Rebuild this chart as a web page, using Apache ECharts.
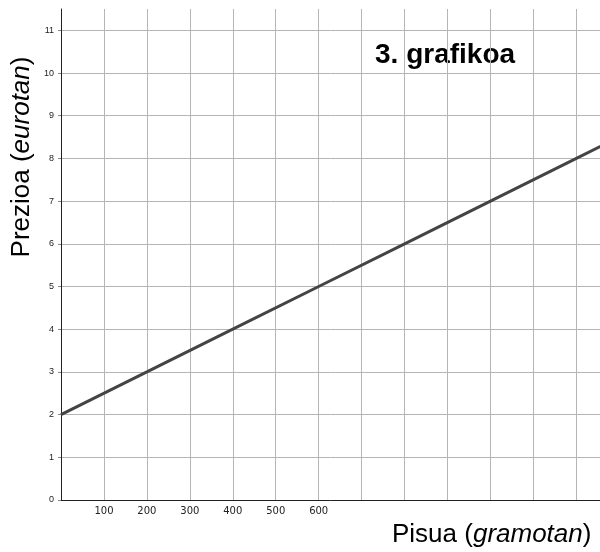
<!DOCTYPE html>
<html>
<head>
<meta charset="utf-8">
<script src="https://cdn.jsdelivr.net/npm/echarts@6/dist/echarts.min.js"></script>
<style>
  html, body { margin: 0; padding: 0; background: #fff; }
  #chart { width: 600px; height: 552px; }
</style>
</head>
<body>
<div id="chart"></div>
<script>
// weight in grams -> price in euros
const weights = [0, 200, 400, 600, 800, 1000, 1200, 1300];
const prices = [2, 3, 4, 5, 6, 7, 8, 8.5];
const xLabels = [100, 200, 300, 400, 500, 600];
const yLabels = [0, 1, 2, 3, 4, 5, 6, 7, 8, 9, 10, 11];

const chart = echarts.init(document.getElementById('chart'));

const option = {
  animation: false,
  backgroundColor: '#fff',
  grid: { left: 61, right: 0, top: 9, bottom: 52 },
  xAxis: {
    type: 'value',
    min: 0,
    max: 1255,
    interval: 100,
    axisLine: { show: true, lineStyle: { color: '#222', width: 1 } },
    axisTick: { show: false },
    splitLine: { show: true, showMaxLine: false, lineStyle: { color: '#b5b5b5', width: 1 } },
    axisLabel: {
      margin: 6,
      color: '#222',
      fontFamily: 'DejaVu Sans',
      fontSize: 10,
      showMaxLabel: false,
      formatter: v => (xLabels.indexOf(v) >= 0 ? String(v) : '')
    }
  },
  yAxis: {
    type: 'value',
    min: 0,
    max: 11.5,
    interval: 1,
    axisLine: { show: true, lineStyle: { color: '#222', width: 1 } },
    axisTick: { show: true, length: 3, lineStyle: { color: '#888' } },
    splitLine: { show: true, showMaxLine: false, lineStyle: { color: '#b5b5b5', width: 1 } },
    axisLabel: {
      margin: 7,
      color: '#222',
      fontFamily: 'Liberation Sans',
      fontSize: 9,
      showMaxLabel: false,
      formatter: v => (yLabels.indexOf(v) >= 0 ? String(v) : '')
    }
  },
  series: [{
    type: 'line',
    data: weights.map((w, i) => [w, prices[i]]),
    showSymbol: false,
    clip: true,
    lineStyle: { color: '#444', width: 3 }
  }],
  graphic: [
    {
      type: 'text',
      left: 375,
      top: 41,
      style: {
        text: '3. grafikoa',
        font: 'bold 28px "Liberation Sans", Arial, sans-serif',
        fill: '#000'
      }
    },
    {
      type: 'text',
      x: 22,
      y: 157,
      rotation: Math.PI / 2,
      style: {
        text: 'Prezioa ({i|eurotan})',
        align: 'center',
        verticalAlign: 'middle',
        font: '26px "Liberation Sans", Arial, sans-serif',
        fill: '#000',
        rich: {
          i: { font: 'italic 26px "Liberation Sans", Arial, sans-serif', fill: '#000' }
        }
      }
    },
    {
      type: 'text',
      left: 392,
      top: 522,
      style: {
        text: 'Pisua ({i|gramotan})',
        font: '26px "Liberation Sans", Arial, sans-serif',
        fill: '#000',
        rich: {
          i: { font: 'italic 26px "Liberation Sans", Arial, sans-serif', fill: '#000' }
        }
      }
    }
  ]
};

chart.setOption(option);
</script>
</body>
</html>
